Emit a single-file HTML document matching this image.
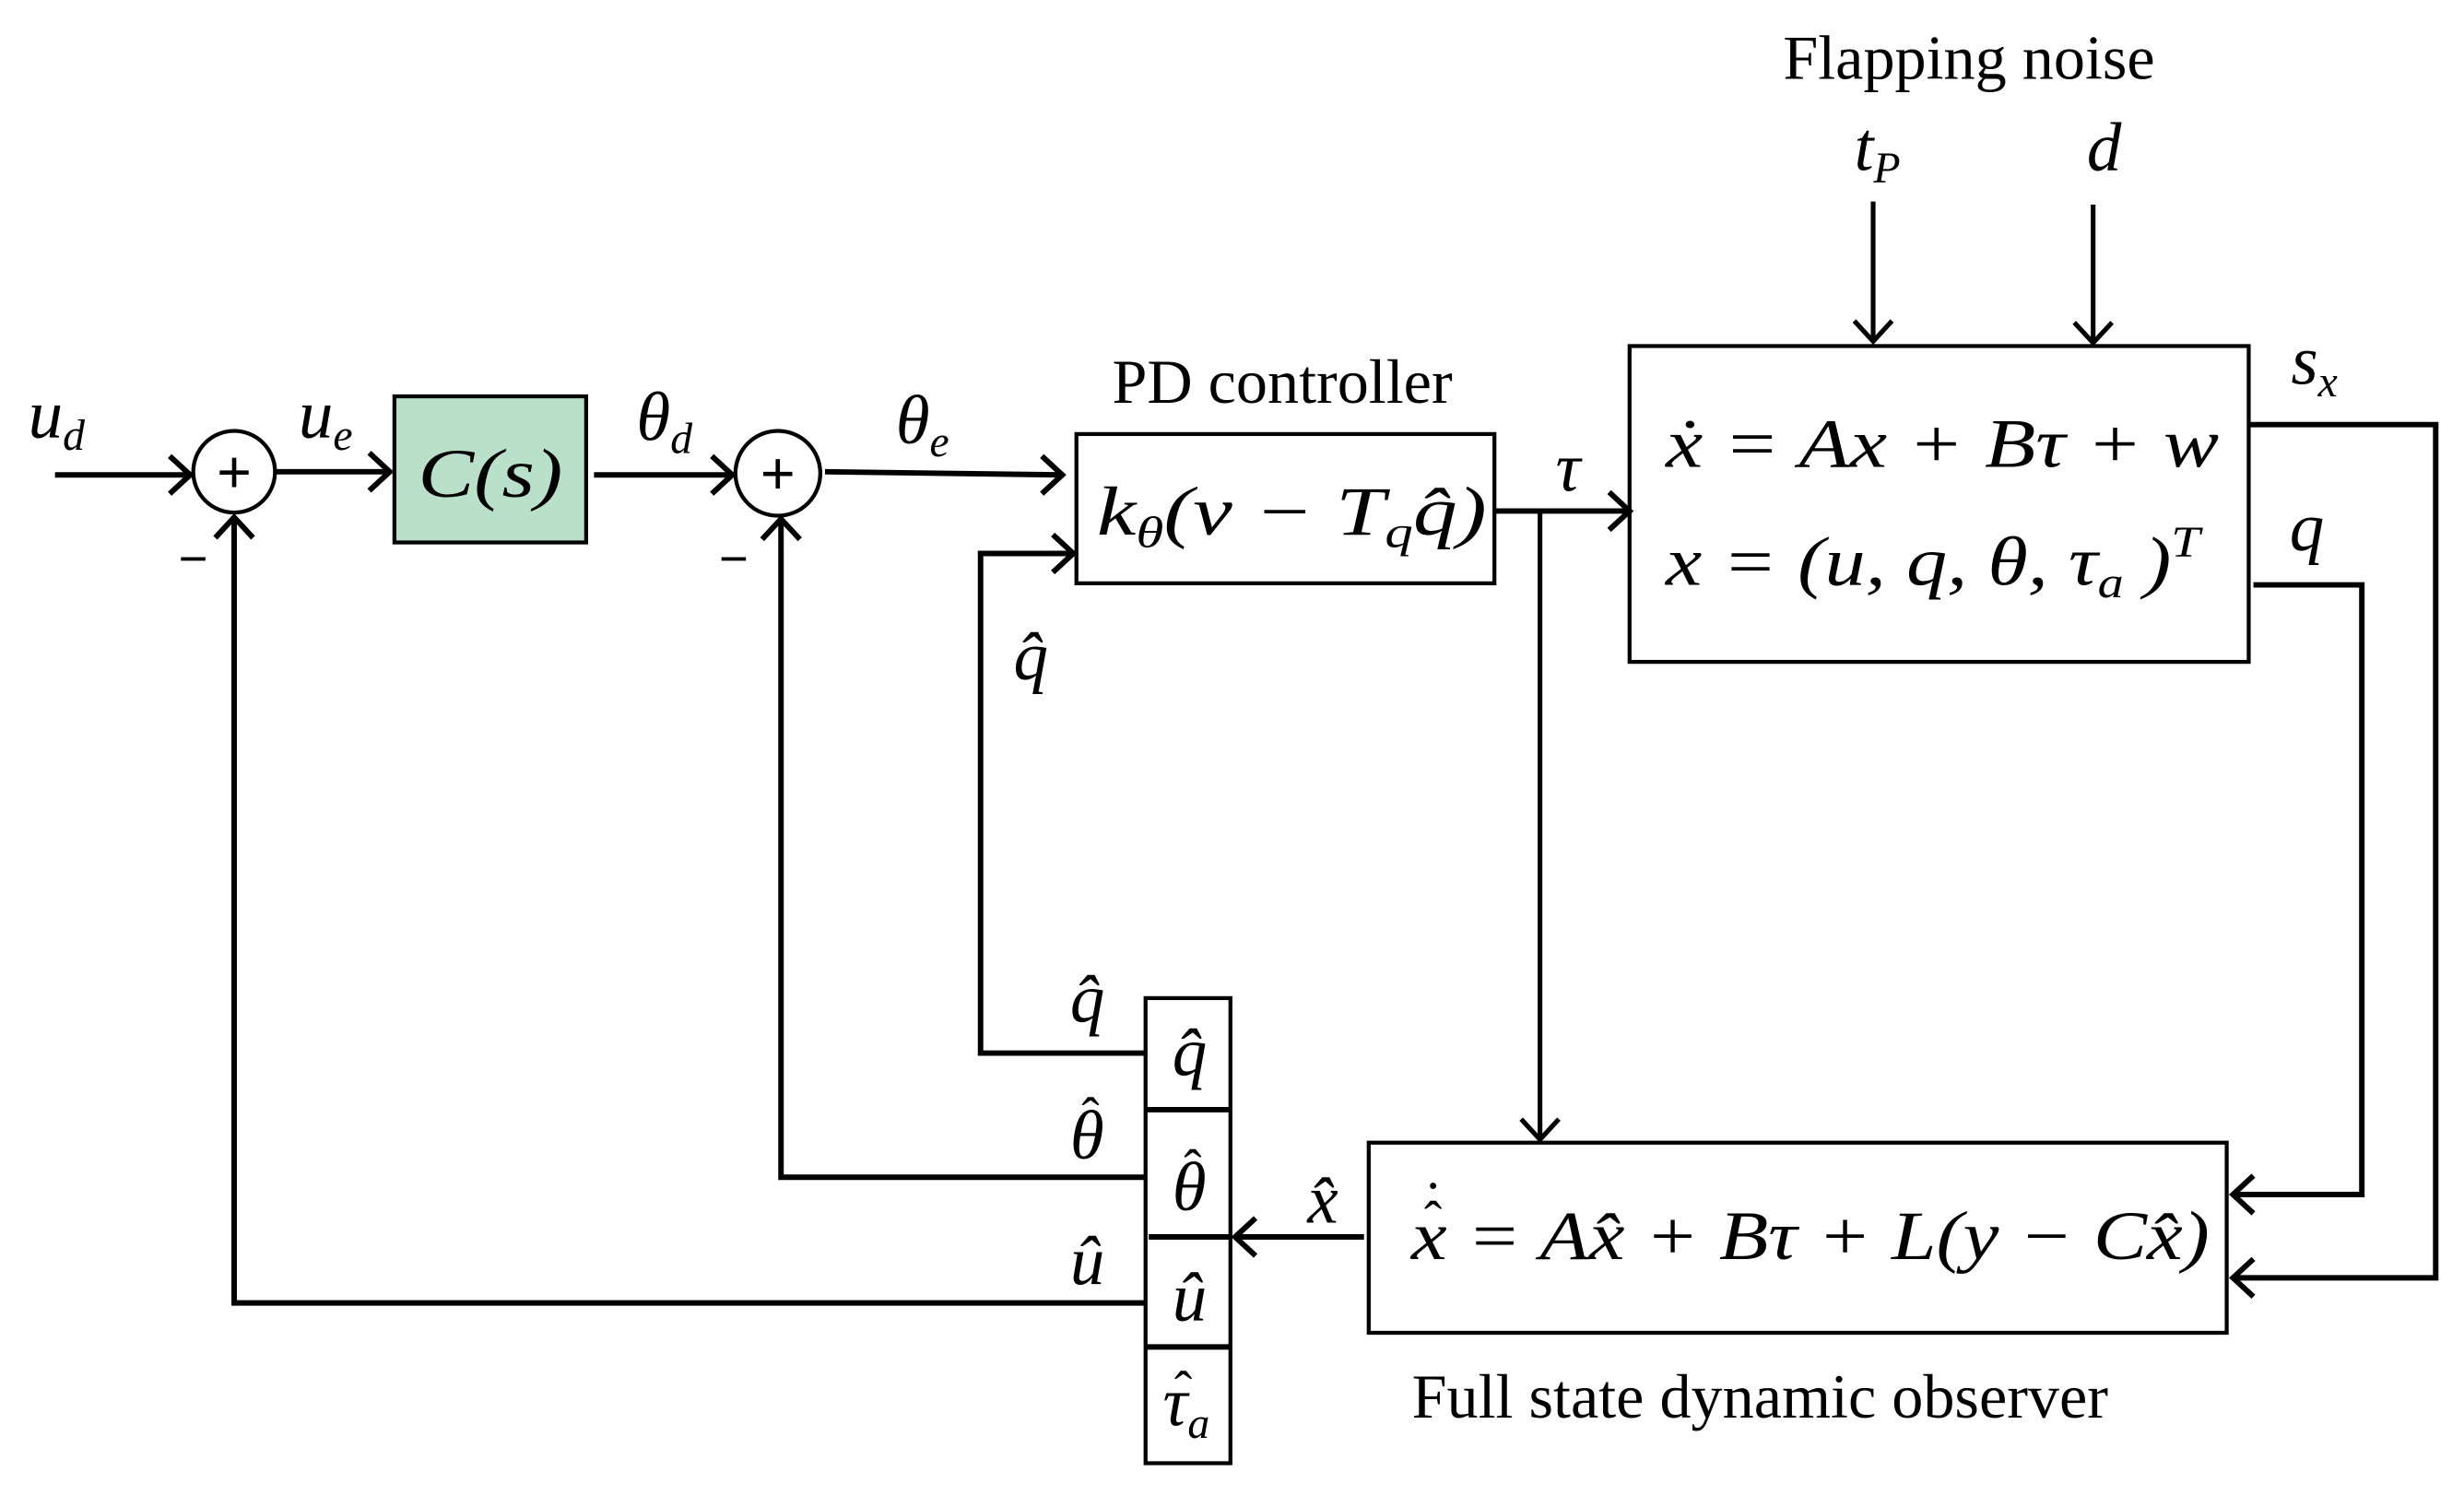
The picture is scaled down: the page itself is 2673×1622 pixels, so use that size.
<!DOCTYPE html>
<html><head><meta charset="utf-8"><style>
html,body{margin:0;padding:0;background:#fff;}
svg{display:block;}
.m{font-family:"Liberation Serif","DejaVu Serif",serif;font-style:italic;font-size:44px;}
.r{font-family:"Liberation Serif",serif;font-size:40px;}
.s{font-size:28px;}
.h{font-family:"Liberation Serif",serif;font-style:normal;font-size:34px;}
</style></head><body>
<svg width="2673" height="1622" viewBox="0 0 1568 951" xmlns="http://www.w3.org/2000/svg">
<g fill="none" stroke="#000" stroke-width="3.5">
<line x1="35" y1="302" x2="121" y2="302"/><polyline points="108,290 121,302 108,314"/>
<circle cx="149" cy="300" r="26" stroke-width="2.5"/>
<line x1="176" y1="300" x2="248" y2="300"/><polyline points="235,288 248,300 235,312"/>
<rect x="251" y="252" width="122" height="93" fill="#b9e0c9" stroke-width="2.5"/>
<line x1="378" y1="302" x2="466" y2="302"/><polyline points="453,290 466,302 453,314"/>
<circle cx="495" cy="301" r="27" stroke-width="2.5"/>
<line x1="525" y1="300" x2="676" y2="302"/><polyline points="663,290 676,302 663,314"/>
<rect x="685" y="276" width="266" height="95" stroke-width="2.5"/>
<polyline points="729,670 624,670 624,352 683,352"/><polyline points="670,340 683,352 670,364"/>
<line x1="951" y1="325" x2="1037" y2="325"/><polyline points="1024,313 1037,325 1024,337"/>
<line x1="980" y1="325" x2="980" y2="725" stroke-width="3"/><polyline points="968,712 980,725 992,712" stroke-width="3"/>
<rect x="1037" y="220" width="394" height="201" stroke-width="2.5"/>
<line x1="1192" y1="128" x2="1192" y2="217" stroke-width="3"/><polyline points="1180,204 1192,217 1204,204" stroke-width="3"/>
<line x1="1332" y1="130" x2="1332" y2="218" stroke-width="3"/><polyline points="1320,205 1332,218 1344,205" stroke-width="3"/>
<polyline points="1431,270 1550,270 1550,813 1421,813"/><polyline points="1434,801 1421,813 1434,825"/>
<polyline points="1434,372 1503,372 1503,760 1421,760"/><polyline points="1434,748 1421,760 1434,772"/>
<rect x="871" y="727" width="546" height="121" stroke-width="2.5"/>
<line x1="868" y1="787" x2="786" y2="787"/><polyline points="799,775 786,787 799,799"/>
<rect x="729" y="635" width="54" height="296" stroke-width="2.5"/>
<line x1="729" y1="706" x2="783" y2="706"/><line x1="731" y1="787" x2="783" y2="787"/><line x1="729" y1="857" x2="783" y2="857"/>
<polyline points="729,749 497,749 497,330"/><polyline points="485,343 497,330 509,343"/>
<polyline points="729,829 149,829 149,329"/><polyline points="137,342 149,329 161,342"/>
</g>
<g font-family="Liberation Sans" font-size="38" text-anchor="middle">
<text x="149" y="313">+</text><text x="495" y="314">+</text>
<text x="123" y="366" font-size="32">−</text><text x="467" y="366" font-size="32">−</text>
</g>
<g class="m">
<text x="18" y="278">u<tspan class="s" dy="8">d</tspan></text>
<text x="190" y="278">u<tspan class="s" dy="8">e</tspan></text>
<text x="266" y="316" textLength="92" lengthAdjust="spacingAndGlyphs">C(s)</text>
<text x="405" y="280">θ<tspan class="s" dy="8">d</tspan></text>
<text x="570" y="282">θ<tspan class="s" dy="8">e</tspan></text>
<text x="698" y="340" textLength="248" lengthAdjust="spacingAndGlyphs">k<tspan class="s" dy="8">θ</tspan><tspan dy="-8">(</tspan>v − T<tspan class="s" dy="8">q</tspan><tspan dy="-8">q̂)</tspan></text>
<text x="990" y="312">τ</text>
<text x="1060" y="297" textLength="352" lengthAdjust="spacingAndGlyphs">ẋ = Ax + Bτ + w</text>
<text x="1060" y="372" textLength="340" lengthAdjust="spacingAndGlyphs">x = (u, q, θ, τ<tspan class="s" dy="8">a</tspan><tspan dy="-8"> )</tspan><tspan class="s" dy="-18">T</tspan></text>
<text x="1180" y="108">t<tspan class="s" dy="8">P</tspan></text>
<text x="1328" y="108">d</text>
<text x="1458" y="244">s<tspan class="s" dy="8">x</tspan></text>
<text x="1457" y="350">q</text>
<text x="645" y="432">q̂</text>
<text x="681" y="650">q̂</text>
<text x="681" y="737">θ</text>
<text x="681" y="817">û</text>
<text x="832" y="778">x̂</text>
<text x="746" y="684">q̂</text>
<text x="746" y="770">θ</text>
<text x="746" y="840">û</text>
<text x="740" y="907">τ<tspan class="s" dy="8">a</tspan></text>
<text x="898" y="801" textLength="508" lengthAdjust="spacingAndGlyphs">x = Ax̂ + Bτ + L(y − Cx̂)</text>
</g>
<g class="h" text-anchor="middle">
<text x="694" y="722">ˆ</text>
<text x="759" y="755">ˆ</text>
<text x="753" y="896">ˆ</text>
<text x="912" y="788">ˆ</text>
<text x="912" y="766" font-size="34">·</text>
</g>
<g class="r" text-anchor="middle">
<text x="816" y="256">PD controller</text>
<text x="1253" y="50">Flapping noise</text>
<text x="1120" y="902">Full state dynamic observer</text>
</g>
</svg>
</body></html>
